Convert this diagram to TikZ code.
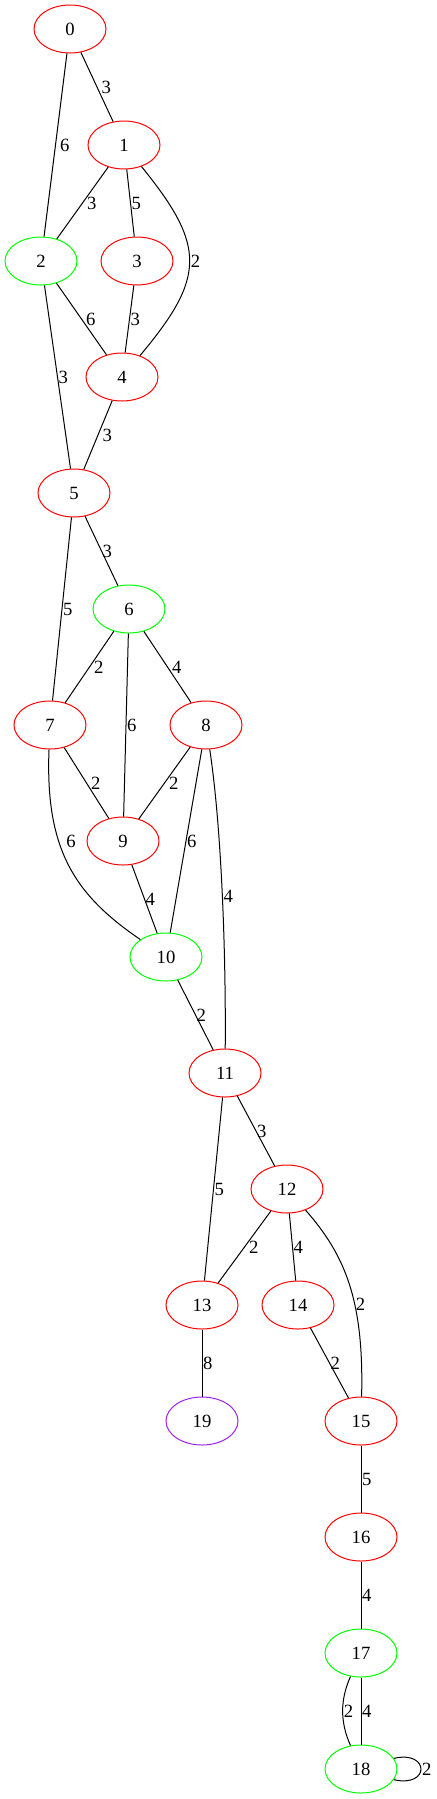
\documentclass[tikz,border=0pt]{standalone}
\usepackage{fontspec}
\setmainfont{Liberation Serif}
\usetikzlibrary{shapes.geometric}
\definecolor{gvred}{HTML}{FF0000}
\definecolor{gvgreen}{HTML}{00FF00}
\definecolor{gvpurple}{HTML}{A020F0}
\begin{document}
\begin{tikzpicture}[x=0.75pt, y=-0.75pt, line width=0.75pt,
    vtx/.style={draw, ellipse, minimum width=54pt, minimum height=36pt, inner sep=0pt, font=\fontsize{14}{16}\selectfont},
    rv/.style={vtx, draw=gvred},
    gv/.style={vtx, draw=gvgreen},
    pv/.style={vtx, draw=gvpurple},
    lbl/.style={midway, right, inner sep=0.5pt, font=\fontsize{14}{16}\selectfont},
    lbw/.style={lbl, inner sep=3pt}]
    \useasboundingbox (0, 0) rectangle (436, 1799);
    \node [rv] (v0) at (70, 29) {0};
    \node [rv] (v1) at (124, 145) {1};
    \node [gv] (v2) at (41, 261) {2};
    \node [rv] (v3) at (137, 261) {3};
    \node [rv] (v4) at (122, 377) {4};
    \node [rv] (v5) at (74, 493) {5};
    \node [gv] (v6) at (129, 609) {6};
    \node [rv] (v7) at (50, 725) {7};
    \node [rv] (v8) at (206, 725) {8};
    \node [rv] (v9) at (123, 841) {9};
    \node [gv] (v10) at (166, 957) {10};
    \node [rv] (v11) at (225, 1073) {11};
    \node [rv] (v12) at (287, 1189) {12};
    \node [rv] (v13) at (202, 1305) {13};
    \node [rv] (v14) at (298, 1305) {14};
    \node [rv] (v15) at (361, 1421) {15};
    \node [pv] (v19) at (202, 1421) {19};
    \node [rv] (v16) at (361, 1537) {16};
    \node [gv] (v17) at (361, 1653) {17};
    \node [gv] (v18) at (361, 1769) {18};
    \draw (v0) -- node [lbw] {3} (v1);
    \draw (v0) -- node [lbw] {6} (v2);
    \draw (v1) -- node [lbw] {3} (v2);
    \draw (v1) -- node [lbl] {5} (v3);
    \draw (v1) .. controls (206, 246) and (206, 277) .. (v4) node [lbl, pos=0.5] {2};
    \draw (v2) -- node [lbw] {6} (v4);
    \draw (v3) -- node [lbl] {3} (v4);
    \draw (v2) -- node [lbl] {3} (v5);
    \draw (v4) -- node [lbw] {3} (v5);
    \draw (v5) -- node [lbl] {3} (v6);
    \draw (v5) -- node [lbl] {5} (v7);
    \draw (v6) -- node [lbw] {2} (v7);
    \draw (v6) -- node [lbw] {4} (v8);
    \draw (v6) -- node [lbl] {6} (v9);
    \draw (v7) -- node [lbw] {2} (v9);
    \draw (v8) -- node [lbw] {2} (v9);
    \draw (v7) .. controls (45, 850) and (75, 895) .. (v10) node [lbl, pos=0.37, xshift=5pt] {6};
    \draw (v8) -- node [lbl] {6} (v10);
    \draw (v9) -- node [lbl] {4} (v10);
    \draw (v8) .. controls (222, 830) and (226, 960) .. (v11) node [lbl, pos=0.5] {4};
    \draw (v10) -- node [lbl] {2} (v11);
    \draw (v11) -- node [lbl] {3} (v12);
    \draw (v11) -- node [lbl] {5} (v13);
    \draw (v12) -- node [lbw] {2} (v13);
    \draw (v12) -- node [lbl] {4} (v14);
    \draw (v12) .. controls (345, 1255) and (364, 1300) .. (v15) node [lbl, pos=0.61] {2};
    \draw (v14) -- node [lbl] {2} (v15);
    \draw (v13) -- node [lbl] {8} (v19);
    \draw (v15) -- node [lbl] {5} (v16);
    \draw (v16) -- node [lbl] {4} (v17);
    \draw (v17) .. controls (340, 1700) and (340, 1722) .. (v18) node [lbl, pos=0.5] {2};
    \draw (v17) -- node [lbl] {4} (v18);
    \draw (v18.18) .. controls (430, 1750) and (430, 1788) .. (v18.-18) node [lbl, pos=0.5] {2};
  \end{tikzpicture}
\end{document}
